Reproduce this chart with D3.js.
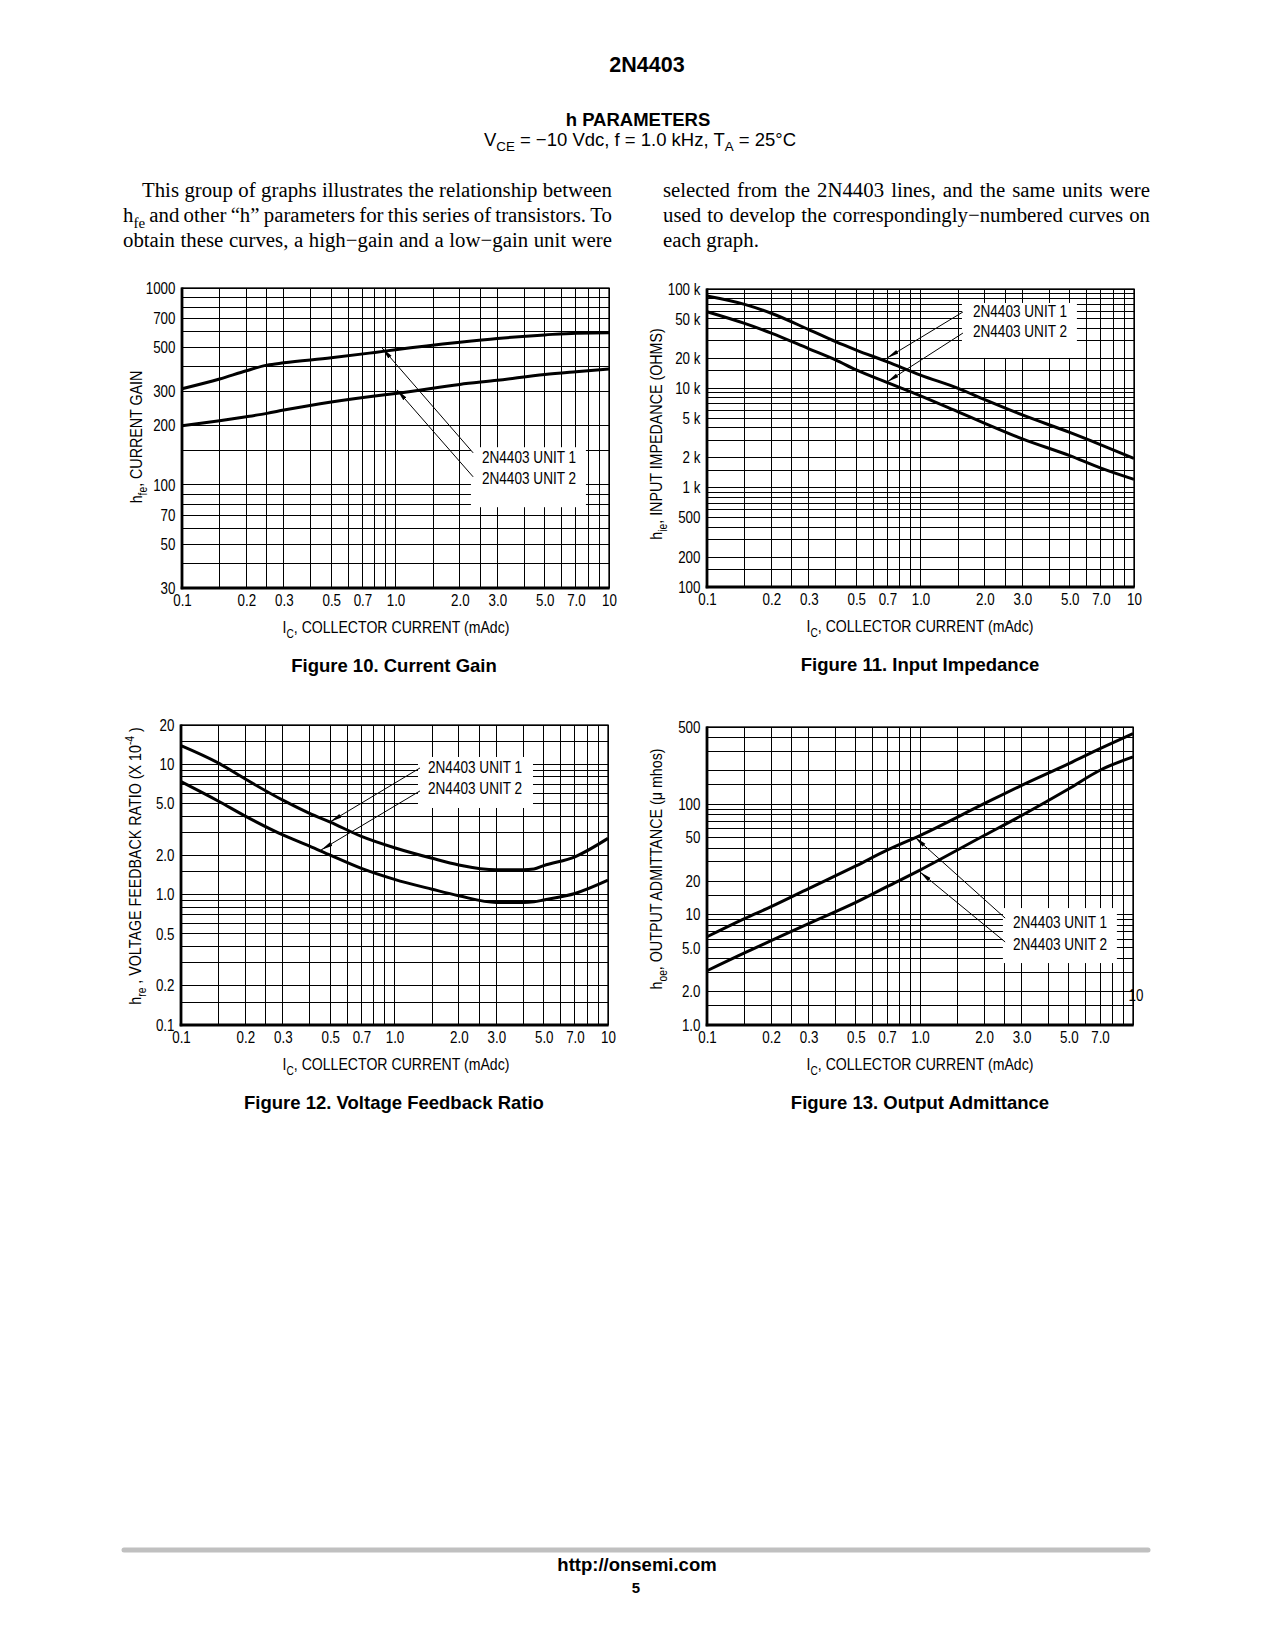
<!DOCTYPE html>
<html><head><meta charset="utf-8">
<script src="https://cdn.jsdelivr.net/npm/d3@7"></script>
<style>html,body{margin:0;padding:0;background:#fff;}svg{display:block;}</style>
</head><body>
<svg id="page" width="1275" height="1650"></svg>
<script>
// ================= DATA =================
const xTickValues = [0.1, 0.2, 0.3, 0.5, 0.7, 1, 2, 3, 5, 7, 10];
const xTickLabels = ["0.1", "0.2", "0.3", "0.5", "0.7", "1.0", "2.0", "3.0", "5.0", "7.0", "10"];
const seriesNames = ["2N4403 UNIT 1", "2N4403 UNIT 2"];

// Figure 10 - Current gain hfe
const fig10Ic    = [0.1, 0.15, 0.2, 0.25, 0.3, 0.5, 0.8, 1, 2, 3, 5, 7, 10];
const fig10Unit1 = [308, 345, 380, 406, 417, 442, 471, 486, 530, 554, 578, 590, 592];
const fig10Unit2 = [200, 212, 222, 231, 240, 264, 283, 291, 324, 340, 364, 376, 388];
const fig10YTicks  = [30, 50, 70, 100, 200, 300, 500, 700, 1000];
const fig10YLabels = ["30", "50", "70", "100", "200", "300", "500", "700", "1000"];

// Figure 11 - Input impedance hie (ohms)
const fig11Ic    = [0.1, 0.15, 0.2, 0.3, 0.4, 0.5, 0.7, 1, 1.5, 2, 3, 5, 7, 10];
const fig11Unit1 = [85000, 70000, 57000, 39000, 29500, 24300, 18500, 13600, 10000, 7700, 5400, 3600, 2700, 1970];
const fig11Unit2 = [59000, 45000, 36000, 25000, 19300, 15300, 11400, 8400, 5800, 4450, 3100, 2100, 1570, 1210];
const fig11YTicks  = [100, 200, 500, 1000, 2000, 5000, 10000, 20000, 50000, 100000];
const fig11YLabels = ["100", "200", "500", "1 k", "2 k", "5 k", "10 k", "20 k", "50 k", "100 k"];

// Figure 12 - Voltage feedback ratio hre (x 10^-4)
const fig12Ic    = [0.1, 0.15, 0.2, 0.3, 0.4, 0.5, 0.7, 1, 1.5, 2, 3, 4, 4.5, 5, 7, 10];
const fig12Unit1 = [13.9, 10.2, 7.7, 5.3, 4.2, 3.6, 2.8, 2.29, 1.9, 1.69, 1.55, 1.55, 1.57, 1.67, 1.95, 2.7];
const fig12Unit2 = [7.35, 5.2, 4.0, 2.87, 2.36, 2.01, 1.59, 1.31, 1.10, 0.98, 0.87, 0.87, 0.88, 0.91, 1.02, 1.29];
const fig12YTicks  = [0.1, 0.2, 0.5, 1, 2, 5, 10, 20];
const fig12YLabels = ["0.1", "0.2", "0.5", "1.0", "2.0", "5.0", "10", "20"];

// Figure 13 - Output admittance hoe (umhos)
const fig13Ic    = [0.1, 0.15, 0.2, 0.3, 0.5, 0.7, 1, 2, 3, 5, 7, 10];
const fig13Unit1 = [6.3, 9.2, 11.8, 17.2, 27.6, 38.3, 52, 101, 148, 233, 318, 435];
const fig13Unit2 = [3.1, 4.5, 5.8, 8.3, 12.9, 17.9, 25.3, 52, 79, 138, 203, 268];
const fig13YTicks  = [1, 2, 5, 10, 20, 50, 100, 500];
const fig13YLabels = ["1.0", "2.0", "5.0", "10", "20", "50", "100", "500"];

// Grid multipliers per decade
const xGridMult = [1, 1.5, 2, 2.5, 3, 4, 5, 6, 7, 8, 9];
const yGridMult = [1, 1.5, 2, 3, 4, 5, 6, 7, 8, 9];

// Page text
const pageTitle = "2N4403";
const sectionTitle = "h PARAMETERS";
const paraLeft = [
  ["This","group","of","graphs","illustrates","the","relationship","between"],
  [[["h",null],["fe","sub"]],"and","other","\u201Ch\u201D","parameters","for","this","series","of","transistors.","To"],
  ["obtain","these","curves,","a","high\u2212gain","and","a","low\u2212gain","unit","were"]
];
const paraRight = [
  ["selected","from","the","2N4403","lines,","and","the","same","units","were"],
  ["used","to","develop","the","correspondingly\u2212numbered","curves","on"],
  ["each","graph."]
];

// ================= RENDER =================
const svg = d3.select("#page");
svg.append("rect").attr("width", 1275).attr("height", 1650).attr("fill", "#fff");
const defs = svg.append("defs");
defs.append("marker").attr("id", "ah").attr("viewBox", "0 0 12 6")
  .attr("refX", 12).attr("refY", 3).attr("markerWidth", 12).attr("markerHeight", 6)
  .attr("markerUnits", "userSpaceOnUse").attr("orient", "auto")
  .append("path").attr("d", "M0,0.9 L12,3 L0,5.1 Z").attr("fill", "#000");

function measure(str, family, size, weight) {
  const t = svg.append("text").attr("font-family", family).attr("font-size", size)
    .attr("font-weight", weight || "normal").text(str);
  const w = t.node().getComputedTextLength(); t.remove(); return w;
}
const narrowOK = Math.abs(measure("COLLECTOR CURRENT", "'Liberation Sans Narrow', monospace", 20) -
                          measure("COLLECTOR CURRENT", "monospace", 20)) > 1;
const NARROW = narrowOK ? "'Liberation Sans Narrow', 'Arial Narrow', sans-serif" : "'Liberation Sans', Arial, sans-serif";
const NX = narrowOK ? 1 : 0.82;
const SANS = "'Liberation Sans', Arial, Helvetica, sans-serif";
const SERIF = "'Liberation Serif', 'Times New Roman', serif";

function addParts(t, parts, size) {
  let shift = 0;
  parts.forEach(p => {
    const [s, kind] = Array.isArray(p) ? p : [p, null];
    const target = kind === "sub" ? size * 0.28 : kind === "sup" ? -size * 0.38 : 0;
    const ts = t.append("tspan").text(s);
    if (target - shift !== 0) ts.attr("dy", target - shift);
    if (kind) ts.attr("font-size", size * 0.72);
    shift = target;
  });
  return t;
}
function ntext(parent, x, y, parts, o = {}) {
  const size = o.size || 16.7;
  const t = parent.append("text")
    .attr("transform", `translate(${x},${y})${o.rotate ? ` rotate(${o.rotate})` : ""} scale(${NX},1)`)
    .attr("font-family", NARROW).attr("font-size", size)
    .attr("text-anchor", o.anchor || "start").attr("fill", "#000");
  return addParts(t, parts, size);
}
function stext(parent, x, y, parts, o = {}) {
  const size = o.size || 18.5;
  const t = parent.append("text").attr("x", x).attr("y", y)
    .attr("font-family", SANS).attr("font-size", size).attr("font-weight", o.weight || "normal")
    .attr("text-anchor", o.anchor || "middle").attr("fill", "#000");
  return addParts(t, parts, size);
}

function logGrid(lo, hi, mult) {
  const out = [];
  for (let k = Math.floor(Math.log10(lo)) - 1; k <= Math.ceil(Math.log10(hi)); k++) {
    mult.forEach(m => {
      const v = +(m * Math.pow(10, k)).toPrecision(6);
      if (v >= lo * 0.9999 && v <= hi * 1.0001) out.push(v);
    });
  }
  return out;
}

const figures = [
  { left: 182, top: 288, width: 427, height: 300, yDomain: [30, 1000],
    ic: fig10Ic, u1: fig10Unit1, u2: fig10Unit2, yTicks: fig10YTicks, yLabels: fig10YLabels,
    yTitle: [["h", null], ["fe", "sub"], [", CURRENT GAIN", null]], yTitleX: 142, yTitleY: 437,
    xTitleX: 396, caption: "Figure 10. Current Gain", capX: 394,
    labelAt: [2.54, 129], lineGap: 20.5, box: { dx: -11, dy: -16, w: 115, h: 60 },
    arrows: [{ tail: [2.31, 145.6], tip: [0.865, 496] }, { tail: [2.31, 110], tip: [1.016, 304] }] },
  { left: 707, top: 289, width: 427, height: 298, yDomain: [100, 100000],
    ic: fig11Ic, u1: fig11Unit1, u2: fig11Unit2, yTicks: fig11YTicks, yLabels: fig11YLabels,
    yTitle: [["h", null], ["ie", "sub"], [", INPUT IMPEDANCE (OHMS)", null]], yTitleX: 662, yTitleY: 434,
    xTitleX: 920, caption: "Figure 11. Input Impedance", capX: 920,
    labelAt: [1.76, 52300], lineGap: 20, box: { dx: -11, dy: -14, w: 115, h: 55 },
    arrows: [{ tail: [1.58, 58700], tip: [0.697, 20200] }, { tail: [1.58, 36000], tip: [0.697, 11600] }] },
  { left: 181, top: 725, width: 427, height: 300, yDomain: [0.1, 20],
    ic: fig12Ic, u1: fig12Unit1, u2: fig12Unit2, yTicks: fig12YTicks, yLabels: fig12YLabels,
    yTitle: [["h", null], ["re", "sub"], [" , VOLTAGE FEEDBACK RATIO (X 10", null], ["-4", "sup"], [" )", null]],
    yTitleX: 141, yTitleY: 866,
    xTitleX: 396, caption: "Figure 12. Voltage Feedback Ratio", capX: 394,
    labelAt: [1.435, 8.57], lineGap: 21, box: { dx: -10, dy: -16, w: 115, h: 51 },
    arrows: [{ tail: [1.316, 9.36], tip: [0.499, 3.61] }, { tail: [1.316, 6.24], tip: [0.453, 2.20] }] },
  { left: 707, top: 727, width: 426, height: 298, yDomain: [1, 500],
    ic: fig13Ic, u1: fig13Unit1, u2: fig13Unit2, yTicks: fig13YTicks, yLabels: fig13YLabels,
    yTitle: [["h", null], ["oe", "sub"], [", OUTPUT ADMITTANCE (\u03BC mhos)", null]], yTitleX: 662, yTitleY: 869,
    xTitleX: 920, caption: "Figure 13. Output Admittance", capX: 920, noX10: true,
    labelAt: [2.73, 7.55], lineGap: 22, box: { dx: -10, dy: -20, w: 114, h: 55 },
    arrows: [{ tail: [2.51, 9.3], tip: [0.948, 50.2] }, { tail: [2.51, 5.65], tip: [1.0, 24.3] }] }
];

figures.forEach(f => {
  const g = svg.append("g");
  const bottom = f.top + f.height, right = f.left + f.width;
  const x = d3.scaleLog().domain([0.1, 10]).range([f.left, right]);
  const y = d3.scaleLog().domain(f.yDomain).range([bottom, f.top]);

  // grid
  const grid = g.append("g").attr("stroke", "#000").attr("stroke-width", 1).attr("shape-rendering", "crispEdges");
  grid.selectAll("line.v").data(logGrid(0.1, 10, xGridMult)).join("line").attr("class", "v")
    .attr("x1", d => x(d)).attr("x2", d => x(d)).attr("y1", f.top).attr("y2", bottom);
  grid.selectAll("line.h").data(logGrid(f.yDomain[0], f.yDomain[1], yGridMult)).join("line").attr("class", "h")
    .attr("y1", d => y(d)).attr("y2", d => y(d)).attr("x1", f.left).attr("x2", right);

  // label box
  const tx = x(f.labelAt[0]), ty = y(f.labelAt[1]);
  g.append("rect").attr("x", tx + f.box.dx).attr("y", ty + f.box.dy).attr("width", f.box.w).attr("height", f.box.h).attr("fill", "#fff");

  // frame
  g.append("rect").attr("x", f.left).attr("y", f.top).attr("width", f.width).attr("height", f.height)
    .attr("fill", "none").attr("stroke", "#000").attr("stroke-width", 1.3);
  g.append("line").attr("x1", f.left).attr("x2", f.left).attr("y1", f.top - 0.6).attr("y2", bottom + 1.3)
    .attr("stroke", "#000").attr("stroke-width", 2.8);
  g.append("line").attr("x1", f.left - 1.3).attr("x2", right + 0.6).attr("y1", bottom).attr("y2", bottom)
    .attr("stroke", "#000").attr("stroke-width", 2.8);

  // curves
  const line = d3.line().x(d => x(d[0])).y(d => y(d[1])).curve(d3.curveMonotoneX);
  [f.u1, f.u2].forEach(u => {
    g.append("path").datum(f.ic.map((c, i) => [c, u[i]])).attr("d", line)
      .attr("fill", "none").attr("stroke", "#000").attr("stroke-width", 3).attr("stroke-linejoin", "round");
  });

  // arrows
  f.arrows.forEach(a => {
    g.append("line").attr("x1", x(a.tail[0])).attr("y1", y(a.tail[1])).attr("x2", x(a.tip[0])).attr("y2", y(a.tip[1]))
      .attr("stroke", "#000").attr("stroke-width", 1).attr("marker-end", "url(#ah)");
  });

  // series labels
  seriesNames.forEach((s, i) => ntext(g, tx, ty + i * f.lineGap, [s], { size: 16.6 }));

  // axes
  const xt = f.noX10 ? xTickValues.filter(v => v !== 10) : xTickValues;
  const xAxis = d3.axisBottom(x).tickValues(xt).tickFormat(d => xTickLabels[xTickValues.indexOf(d)]).tickSize(0).tickPadding(6);
  const ax = g.append("g").attr("transform", `translate(0,${bottom})`).call(xAxis);
  ax.select(".domain").remove();
  ax.selectAll("text").attr("font-family", NARROW).attr("font-size", 16.3).attr("fill", "#000")
    .attr("transform", `scale(${NX},1)`);
  const yAxis = d3.axisLeft(y).tickValues(f.yTicks).tickFormat(d => f.yLabels[f.yTicks.indexOf(d)]).tickSize(0).tickPadding(8);
  const ay = g.append("g").attr("transform", `translate(${f.left},0)`).call(yAxis);
  ay.select(".domain").remove();
  ay.selectAll("text").attr("font-family", NARROW).attr("font-size", 16.3).attr("fill", "#000")
    .attr("transform", `scale(${NX},1)`);

  if (f.noX10) ntext(g, x(10) + 3, y(2) + 9.5, ["10"], { size: 16.3, anchor: "middle" });

  // titles
  ntext(g, f.xTitleX, bottom + 45, [["I", null], ["C", "sub"], [", COLLECTOR CURRENT (mAdc)", null]], { size: 17.2, anchor: "middle" });
  ntext(g, f.yTitleX, f.yTitleY, f.yTitle, { size: 17.4, anchor: "middle", rotate: -90 });
  stext(g, f.capX, bottom + 84, [f.caption], { size: 18.5, weight: "bold" });
});

// ---------- header ----------
stext(svg, 647, 72, [pageTitle], { size: 21.5, weight: "bold" });
stext(svg, 638, 126, [sectionTitle], { size: 18.5, weight: "bold" });
stext(svg, 640, 146, [["V", null], ["CE", "sub"], [" = \u221210 Vdc, f = 1.0 kHz, T", null], ["A", "sub"], [" = 25\u00B0C", null]], { size: 18.5 });

// ---------- paragraph ----------
const PSIZE = 20.8;
function wordNode(w) {
  const t = svg.append("text").attr("font-family", SERIF).attr("font-size", PSIZE).attr("fill", "#000");
  if (Array.isArray(w)) addParts(t, w, PSIZE); else t.text(w);
  return t;
}
function layoutColumn(lines, specs) {
  const nodes = lines.map(ws => ws.map(w => wordNode(w)));
  const widths = nodes.map(ns => ns.map(n => n.node().getComputedTextLength()));
  const spaceW = measure("a a", SERIF, PSIZE) - measure("aa", SERIF, PSIZE);
  let c = 1;
  specs.forEach((s, i) => {
    if (!s.justify) return;
    const nat = d3.sum(widths[i]) + spaceW * (widths[i].length - 1) * 0.8;
    c = Math.min(c, (s.x1 - s.x0) / nat);
  });
  specs.forEach((s, i) => {
    const ws = widths[i].map(w => w * c);
    const gap = s.justify ? ((s.x1 - s.x0) - d3.sum(ws)) / (ws.length - 1) : spaceW * c;
    let xx = s.x0;
    nodes[i].forEach((n, j) => {
      n.attr("transform", `translate(${xx},${s.y}) scale(${c},1)`);
      xx += ws[j] + gap;
    });
  });
}
layoutColumn(paraLeft, [
  { x0: 142, x1: 612, y: 197, justify: true },
  { x0: 123, x1: 612, y: 222, justify: true },
  { x0: 123, x1: 612, y: 247, justify: true }
]);
layoutColumn(paraRight, [
  { x0: 663, x1: 1150, y: 197, justify: true },
  { x0: 663, x1: 1150, y: 222, justify: true },
  { x0: 663, x1: 1150, y: 247, justify: false }
]);

// ---------- footer ----------
svg.append("line").attr("x1", 124).attr("x2", 1148).attr("y1", 1550).attr("y2", 1550)
  .attr("stroke", "#c0c0c0").attr("stroke-width", 5).attr("stroke-linecap", "round");
stext(svg, 637, 1571, ["http://onsemi.com"], { size: 18.5, weight: "bold" });
stext(svg, 636, 1593, ["5"], { size: 15, weight: "bold" });
</script>
</body></html>
